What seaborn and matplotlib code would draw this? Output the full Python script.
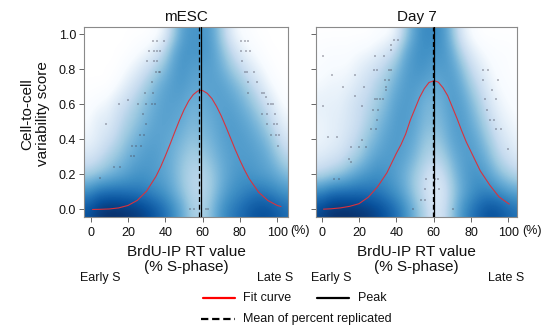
import numpy as np
import pandas as pd
import seaborn as sns
import matplotlib
matplotlib.use("Agg")
import matplotlib.pyplot as plt
from matplotlib.colors import LinearSegmentedColormap, PowerNorm
from matplotlib.lines import Line2D
from matplotlib.transforms import blended_transform_factory

sns.set_theme(style="ticks")
plt.rcParams["font.family"] = ["Liberation Sans", "DejaVu Sans"]

# ---------------- data ----------------
panel_titles = ["mESC", "Day 7"]
x_ticks = [0, 20, 40, 60, 80, 100]
x_tick_labels = ["0", "20", "40", "60", "80", "100"]
y_ticks = [0.0, 0.2, 0.4, 0.6, 0.8, 1.0]
y_tick_labels = ["0.0", "0.2", "0.4", "0.6", "0.8", "1.0"]

# density grid (smoothScatter colour intensity), columns x = 0..105 step 5,
# rows from y = 1.0 (top) down to y = 0.0
grid_x = [0, 5, 10, 15, 20, 25, 30, 35, 40, 45, 50, 55, 60, 65, 70, 75, 80, 85, 90, 95, 100, 105]
grid_y = [1.0, 0.9, 0.8, 0.7, 0.6, 0.5, 0.4, 0.3, 0.2, 0.1, 0.0]

mesc_density = [
    [0, 0, 0, 0, 0, 0, 0, 0.02, 0.08, 0.3, 0.5, 0.55, 0.55, 0.5, 0.32, 0.12, 0.04, 0.02, 0, 0, 0, 0],
    [0, 0, 0, 0, 0, 0.03, 0.06, 0.12, 0.25, 0.45, 0.55, 0.55, 0.55, 0.52, 0.4, 0.25, 0.12, 0.06, 0.03, 0, 0, 0],
    [0, 0, 0, 0, 0.05, 0.1, 0.18, 0.28, 0.38, 0.5, 0.55, 0.5, 0.5, 0.5, 0.45, 0.35, 0.25, 0.15, 0.08, 0.03, 0, 0],
    [0, 0, 0, 0.05, 0.12, 0.2, 0.3, 0.4, 0.48, 0.52, 0.52, 0.48, 0.48, 0.5, 0.5, 0.45, 0.38, 0.28, 0.18, 0.08, 0.03, 0],
    [0.02, 0.05, 0.08, 0.15, 0.22, 0.3, 0.38, 0.45, 0.5, 0.5, 0.48, 0.42, 0.45, 0.48, 0.5, 0.5, 0.45, 0.38, 0.28, 0.18, 0.08, 0.03],
    [0.05, 0.12, 0.12, 0.2, 0.28, 0.35, 0.42, 0.48, 0.5, 0.48, 0.45, 0.4, 0.42, 0.45, 0.5, 0.52, 0.5, 0.45, 0.38, 0.28, 0.15, 0.08],
    [0.08, 0.12, 0.18, 0.25, 0.35, 0.42, 0.48, 0.5, 0.48, 0.45, 0.4, 0.35, 0.38, 0.42, 0.48, 0.52, 0.52, 0.5, 0.45, 0.38, 0.25, 0.15],
    [0.15, 0.2, 0.28, 0.35, 0.42, 0.48, 0.52, 0.52, 0.48, 0.42, 0.35, 0.3, 0.32, 0.38, 0.45, 0.5, 0.52, 0.52, 0.5, 0.45, 0.35, 0.25],
    [0.3, 0.35, 0.4, 0.45, 0.5, 0.55, 0.55, 0.52, 0.48, 0.42, 0.32, 0.25, 0.25, 0.32, 0.42, 0.5, 0.55, 0.55, 0.52, 0.5, 0.45, 0.38],
    [0.6, 0.7, 0.72, 0.72, 0.7, 0.68, 0.65, 0.6, 0.55, 0.45, 0.35, 0.25, 0.25, 0.32, 0.45, 0.55, 0.6, 0.65, 0.68, 0.65, 0.6, 0.55],
    [0.85, 0.95, 1.0, 1.0, 0.98, 0.95, 0.9, 0.82, 0.72, 0.6, 0.45, 0.3, 0.28, 0.38, 0.55, 0.65, 0.72, 0.8, 0.85, 0.85, 0.8, 0.72],
]

day7_density = [
    [0, 0, 0, 0, 0, 0, 0.02, 0.03, 0.08, 0.3, 0.5, 0.6, 0.6, 0.55, 0.35, 0.12, 0.04, 0, 0, 0, 0, 0],
    [0.02, 0.03, 0.03, 0.03, 0.05, 0.06, 0.1, 0.15, 0.25, 0.45, 0.55, 0.58, 0.55, 0.55, 0.45, 0.25, 0.12, 0.06, 0.03, 0.02, 0.02, 0],
    [0.03, 0.05, 0.05, 0.06, 0.1, 0.15, 0.2, 0.28, 0.38, 0.5, 0.55, 0.55, 0.5, 0.52, 0.5, 0.38, 0.22, 0.12, 0.06, 0.03, 0.02, 0],
    [0.06, 0.08, 0.08, 0.1, 0.15, 0.2, 0.28, 0.35, 0.45, 0.52, 0.52, 0.48, 0.45, 0.48, 0.52, 0.45, 0.32, 0.2, 0.1, 0.05, 0.03, 0.02],
    [0.1, 0.1, 0.1, 0.15, 0.2, 0.25, 0.32, 0.4, 0.5, 0.52, 0.5, 0.42, 0.4, 0.45, 0.52, 0.5, 0.4, 0.28, 0.15, 0.08, 0.05, 0.03],
    [0.08, 0.1, 0.12, 0.15, 0.2, 0.28, 0.38, 0.45, 0.52, 0.52, 0.48, 0.4, 0.38, 0.42, 0.5, 0.52, 0.45, 0.35, 0.22, 0.12, 0.08, 0.05],
    [0.08, 0.1, 0.12, 0.18, 0.25, 0.35, 0.42, 0.5, 0.52, 0.5, 0.45, 0.35, 0.32, 0.38, 0.48, 0.52, 0.5, 0.42, 0.3, 0.18, 0.12, 0.08],
    [0.12, 0.15, 0.18, 0.25, 0.32, 0.42, 0.5, 0.52, 0.52, 0.48, 0.4, 0.3, 0.25, 0.3, 0.42, 0.5, 0.52, 0.48, 0.38, 0.25, 0.18, 0.12],
    [0.25, 0.3, 0.35, 0.42, 0.5, 0.55, 0.58, 0.55, 0.5, 0.42, 0.32, 0.22, 0.15, 0.2, 0.35, 0.48, 0.55, 0.55, 0.48, 0.38, 0.3, 0.25],
    [0.62, 0.7, 0.72, 0.72, 0.72, 0.7, 0.68, 0.62, 0.55, 0.45, 0.32, 0.2, 0.12, 0.15, 0.3, 0.45, 0.55, 0.62, 0.62, 0.58, 0.52, 0.48],
    [0.9, 0.98, 1.0, 1.0, 0.98, 0.95, 0.9, 0.82, 0.72, 0.58, 0.42, 0.28, 0.15, 0.18, 0.35, 0.55, 0.68, 0.78, 0.85, 0.82, 0.75, 0.7],
]

# fit curves
mesc_fit_x = [1, 5, 10, 15, 20, 25, 30, 35, 37.5, 40, 42.5, 45, 47.5, 50, 52.5, 55, 57.5, 59, 60, 62.5,
              65, 67.5, 70, 72.5, 75, 77.5, 80, 82.5, 85, 90, 95, 100, 102]
mesc_fit_y = [0.000, 0.001, 0.003, 0.009, 0.023, 0.052, 0.105, 0.189, 0.243, 0.305, 0.371, 0.440, 0.507,
              0.568, 0.619, 0.656, 0.677, 0.680, 0.679, 0.663, 0.633, 0.588, 0.534, 0.472, 0.407, 0.342,
              0.281, 0.225, 0.175, 0.099, 0.051, 0.023, 0.017]
day7_fit_x = [1, 5, 10, 15, 20, 25, 30, 35, 40, 42.5, 45, 47.5, 50, 52.5, 55, 57.5, 60.3, 62.5, 65,
              67.5, 70, 72.5, 75, 77.5, 80, 85, 90, 95, 100, 100.5]
day7_fit_y = [0.002, 0.004, 0.009, 0.018, 0.033, 0.070, 0.130, 0.210, 0.320, 0.370, 0.430, 0.510, 0.575,
              0.640, 0.690, 0.725, 0.735, 0.727, 0.695, 0.650, 0.585, 0.520, 0.450, 0.385, 0.330, 0.220,
              0.140, 0.072, 0.034, 0.031]

peak_x = [59.3, 60.0]          # solid line
mean_replicated = [58.2, 59.8]  # dashed line

# sparse outlier points
mesc_pts_x = [33.4, 35.4, 39.3, 31.4, 33.9, 35.7, 37.1, 30.4, 33.9, 35.7, 35.2, 36.6, 37.3, 32.7, 29.1, 33.6,
              15.2, 25.4, 29.5, 32.7, 34.3, 20.2, 28.2, 8.0, 29.8, 26.3, 28.6, 22.3, 24.1, 26.8, 21.4, 23.2,
              12.5, 15.5, 5.0, 53.2, 55.4, 61.6, 62.9,
              80.4, 82.5, 84.5, 80.4, 83.0, 85.4, 81.3, 82.7, 83.9, 87.5, 84.5, 89.3, 84.5, 92.0, 92.9, 93.8,
              95.2, 96.4, 97.9, 91.6, 94.3, 98.6, 94.6, 98.2, 99.6, 96.4, 99.1, 100.9, 100.5]
mesc_pts_y = [0.964, 0.964, 0.964, 0.907, 0.907, 0.907, 0.907, 0.846, 0.846, 0.846, 0.787, 0.787, 0.787, 0.727,
              0.666, 0.666, 0.605, 0.605, 0.605, 0.605, 0.605, 0.626, 0.543, 0.486, 0.486, 0.423, 0.423,
              0.364, 0.364, 0.364, 0.304, 0.304, 0.243, 0.243, 0.182, 0.0, 0.0, 0.0, 0.0,
              0.964, 0.964, 0.964, 0.907, 0.907, 0.907, 0.846, 0.787, 0.787, 0.787, 0.727, 0.727, 0.666,
              0.666, 0.666, 0.641, 0.605, 0.605, 0.605, 0.543, 0.543, 0.543, 0.486, 0.486, 0.486, 0.423,
              0.423, 0.423, 0.364]
day7_pts_x = [38.6, 40.9, 37.0, 37.0, 0.5, 28.8, 33.3, 27.9, 29.4, 36.0, 37.0, 5.7, 17.8, 33.8, 36.0, 11.5,
              22.8, 34.7, 34.7, 17.8, 28.4, 29.9, 31.3, 32.9, 0.5, 21.9, 27.6, 30.2, 29.7, 26.7, 29.3, 3.5,
              8.5, 21.9, 15.6, 20.1, 24.0, 14.8, 16.0, 6.8, 9.2, 56.0, 60.8, 62.3, 55.2, 63.1, 53.4, 55.2,
              48.9, 70.3,
              86.3, 88.9, 86.3, 94.3, 91.1, 87.5, 93.4, 88.6, 90.4, 92.2, 93.4, 96.1, 99.6]
day7_pts_y = [0.97, 0.97, 0.94, 0.91, 0.879, 0.879, 0.879, 0.799, 0.799, 0.799, 0.799, 0.765, 0.765, 0.742,
              0.742, 0.702, 0.702, 0.702, 0.683, 0.645, 0.628, 0.628, 0.628, 0.628, 0.588, 0.588, 0.569,
              0.569, 0.512, 0.457, 0.457, 0.414, 0.414, 0.398, 0.355, 0.355, 0.355, 0.29, 0.271, 0.175,
              0.175, 0.176, 0.176, 0.176, 0.116, 0.116, 0.057, 0.057, 0.0, 0.0,
              0.799, 0.799, 0.742, 0.742, 0.683, 0.628, 0.628, 0.569, 0.512, 0.512, 0.457, 0.457, 0.343]

x_limits = [(-3.4, 105.6), (-3.0, 104.8)]
y_limits = (-0.04, 1.04)

# ---------------- figure ----------------
blues = ["#FFFFFF", "#F7FBFF", "#DEEBF7", "#C6DBEF", "#9ECAE1", "#6BAED6",
         "#4292C6", "#2171B5", "#08519C", "#08306B"]
cmap = LinearSegmentedColormap.from_list("smooth_blues", blues)

W, H = 543, 336
fig = plt.figure(figsize=(W / 100, H / 100), dpi=100)
ax_boxes = [(84.3, 27.3, 287.7, 216.5), (316.0, 27.3, 517.3, 216.5)]
axes = []
for (l, t, r, b) in ax_boxes:
    axes.append(fig.add_axes([l / W, 1 - b / H, (r - l) / W, (b - t) / H]))

densities = [mesc_density, day7_density]
fits = [(mesc_fit_x, mesc_fit_y), (day7_fit_x, day7_fit_y)]
pts = [(mesc_pts_x, mesc_pts_y), (day7_pts_x, day7_pts_y)]

for i, ax in enumerate(axes):
    ax.set_facecolor("white")
    dens = np.array(densities[i])
    ext = (x_limits[i][0], grid_x[-1] + 2.5, grid_y[-1] - 0.05, grid_y[0] + 0.05)
    ax.imshow(dens, cmap=cmap, norm=PowerNorm(gamma=0.72, vmin=0, vmax=1), extent=ext,
              origin="upper", aspect="auto", interpolation="bicubic", zorder=0)

    pdf = pd.DataFrame({"x": pts[i][0], "y": pts[i][1]})
    sns.scatterplot(data=pdf, x="x", y="y", ax=ax, marker="s", s=0.8, color="#4a4a5a",
                    linewidth=0, alpha=0.35, zorder=2, legend=False)

    fdf = pd.DataFrame({"x": fits[i][0], "y": fits[i][1]})
    sns.lineplot(data=fdf, x="x", y="y", ax=ax, color="#d9323d", lw=0.8, zorder=3,
                 estimator=None, sort=False)

    ax.axvline(peak_x[i], color="black", lw=0.9, zorder=4)
    ax.axvline(mean_replicated[i], color="black", lw=0.9, dashes=(4, 2.2), zorder=5)

    ax.set_xlim(*x_limits[i])
    ax.set_ylim(*y_limits)
    ax.set_xticks(x_ticks)
    ax.set_xticklabels(x_tick_labels)
    ax.set_yticks(y_ticks)
    if i == 0:
        ax.set_yticklabels(y_tick_labels)
    else:
        ax.set_yticklabels([])
    ax.set_xlabel("")
    ax.set_ylabel("")
    for sp in ax.spines.values():
        sp.set_visible(True)
        sp.set_color("#8a8a8a")
        sp.set_linewidth(0.8)
    ax.tick_params(axis="both", direction="out", length=3.6, width=0.7, color="#666666",
                   labelsize=9, labelcolor="#111111")
    ax.tick_params(axis="x", pad=3.6)
    ax.tick_params(axis="y", pad=2.2)
    ax.set_title(panel_titles[i], fontsize=11, pad=4.5, color="#111111")

    tr = blended_transform_factory(ax.transData, ax.transAxes)
    ax.text(107.2, -0.078, "(%)", transform=tr, ha="left", va="center", fontsize=9,
            color="#111111", clip_on=False)
    ax.text(5.2, -0.325, "Early S", transform=tr, ha="center", va="center", fontsize=9,
            color="#111111", clip_on=False)
    ax.text(99.0, -0.325, "Late S", transform=tr, ha="center", va="center", fontsize=9,
            color="#111111", clip_on=False)
    ax.text(0.5, -0.228, "BrdU-IP RT value\n(% S-phase)", transform=ax.transAxes,
            ha="center", va="center", fontsize=11, linespacing=1.15, color="#111111")

fig.text(35 / W, 1 - 114 / H, "Cell-to-cell\nvariability score", rotation=90,
         ha="center", va="center", fontsize=11, linespacing=1.15, color="#111111",
         multialignment="center")

# legend drawn in figure pixels
def fx(px):
    return px / W

def fy(py):
    return 1 - py / H

fig.add_artist(Line2D([fx(202.7), fx(235)], [fy(298.3), fy(298.3)], color="red", lw=1.6))
fig.text(fx(242.7), fy(298.3), "Fit curve", ha="left", va="center", fontsize=9, color="#111111")
fig.add_artist(Line2D([fx(316.7), fx(349.3)], [fy(298.3), fy(298.3)], color="black", lw=1.6))
fig.text(fx(358), fy(298.3), "Peak", ha="left", va="center", fontsize=9, color="#111111")
fig.add_artist(Line2D([fx(200.5), fx(235)], [fy(319.3), fy(319.3)], color="black", lw=1.6,
                      dashes=(3.3, 1.7)))
fig.text(fx(242.7), fy(319.3), "Mean of percent replicated", ha="left", va="center",
         fontsize=9, color="#111111")

fig.savefig("out.png", dpi=100)
